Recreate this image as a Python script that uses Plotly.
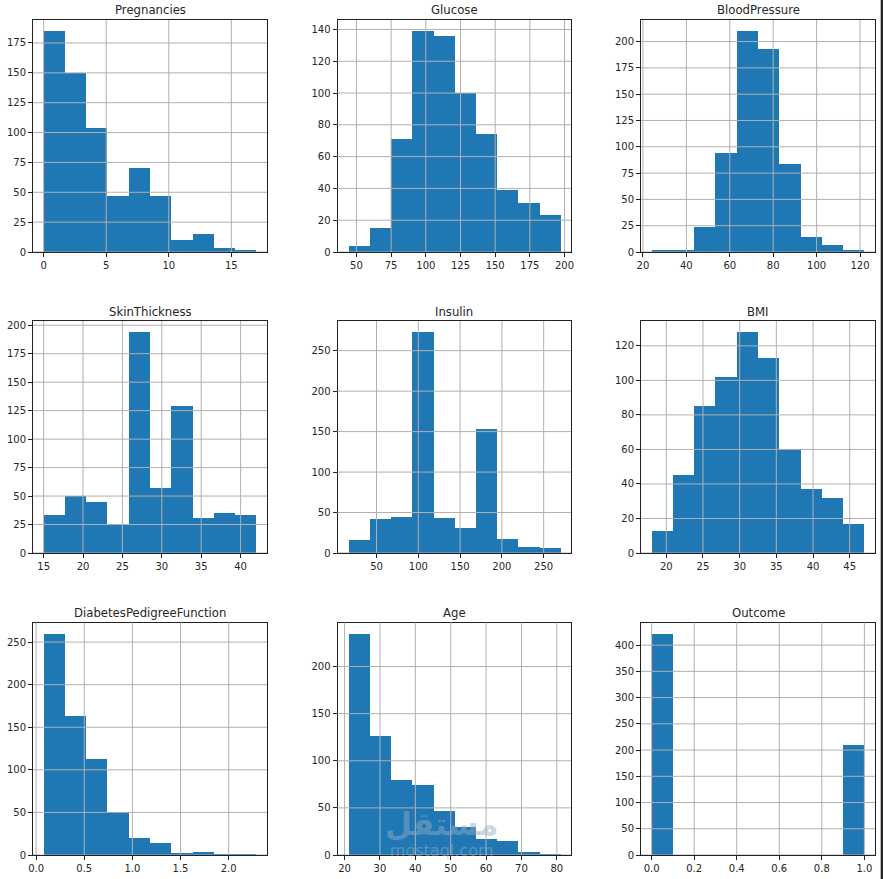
import numpy as np
import plotly.graph_objects as go

titles = ['Pregnancies', 'Glucose', 'BloodPressure', 'SkinThickness', 'Insulin', 'BMI',
          'DiabetesPedigreeFunction', 'Age', 'Outcome']

# min / max of each column (bins are 10 equal steps between them)
pregnancies_range = [0, 17]
glucose_range = [44, 197]
blood_pressure_range = [24, 122]
skin_range = [15, 42]
insulin_range = [16, 270]
bmi_range = [18, 47]
pedigree_range = [0.078, 2.288]
age_range = [21, 81]
outcome_range = [0, 1]

# counts per bin
pregnancies = [185, 150, 104, 47, 70, 47, 10, 15, 3, 1]
glucose = [4, 15, 71, 139, 136, 100, 74, 39, 31, 23]
blood_pressure = [2, 2, 24, 94, 210, 193, 84, 14, 7, 2]
skin = [33, 50, 45, 25, 194, 57, 129, 31, 35, 33]
insulin = [16, 42, 44, 273, 43, 31, 153, 17, 7, 6]
bmi = [13, 45, 85, 102, 128, 113, 60, 37, 32, 17]
pedigree = [260, 164, 113, 51, 20, 15, 3, 4, 1, 1]
age = [235, 127, 80, 75, 47, 30, 18, 15, 4, 1]
outcome = [422, 0, 0, 0, 0, 0, 0, 0, 0, 210]

# tick labels
x_ticks = [
    [0, 5, 10, 15],
    [50, 75, 100, 125, 150, 175, 200],
    [20, 40, 60, 80, 100, 120],
    [15, 20, 25, 30, 35, 40],
    [50, 100, 150, 200, 250],
    [20, 25, 30, 35, 40, 45],
    [0.0, 0.5, 1.0, 1.5, 2.0],
    [20, 30, 40, 50, 60, 70, 80],
    [0.0, 0.2, 0.4, 0.6, 0.8, 1.0],
]
y_ticks = [
    [0, 25, 50, 75, 100, 125, 150, 175],
    [0, 20, 40, 60, 80, 100, 120, 140],
    [0, 25, 50, 75, 100, 125, 150, 175, 200],
    [0, 25, 50, 75, 100, 125, 150, 175, 200],
    [0, 50, 100, 150, 200, 250],
    [0, 20, 40, 60, 80, 100, 120],
    [0, 50, 100, 150, 200, 250],
    [0, 50, 100, 150, 200],
    [0, 50, 100, 150, 200, 250, 300, 350, 400],
]
x_formats = ['d', 'd', 'd', 'd', 'd', 'd', '.1f', 'd', '.1f']

ranges = [pregnancies_range, glucose_range, blood_pressure_range, skin_range, insulin_range,
          bmi_range, pedigree_range, age_range, outcome_range]
counts = [pregnancies, glucose, blood_pressure, skin, insulin, bmi, pedigree, age, outcome]

W, H = 883, 879
col_px = [(33, 267), (337.5, 571), (641, 875)]
row_px = [(20, 252), (321, 553), (622.5, 855)]
TEXT = '#262626'
BLUE = '#1f77b4'
GRID = '#b0b0b0'

fig = go.Figure()

for i, (title, rng, cnt) in enumerate(zip(titles, ranges, counts)):
    n = i + 1
    suffix = '' if n == 1 else str(n)
    c0, c1 = col_px[i % 3]
    r0, r1 = row_px[i // 3]
    edges = np.linspace(rng[0], rng[1], len(cnt) + 1)
    fig.add_trace(go.Bar(x=edges[:-1], y=cnt, width=np.diff(edges), offset=0,
                         marker=dict(color=BLUE, line=dict(width=0)),
                         xaxis='x' + suffix, yaxis='y' + suffix, showlegend=False))
    pad = (rng[1] - rng[0]) * 0.05
    axis = dict(showline=True, mirror=True, linecolor='#222222', linewidth=1, showgrid=False,
                zeroline=False, ticks='outside', ticklen=4, tickwidth=1, tickcolor='#222222',
                tickfont=dict(size=10, color=TEXT), layer='above traces', automargin=False)
    fig.update_layout({
        'xaxis' + suffix: dict(axis, domain=[c0 / W, c1 / W], anchor='y' + suffix,
                               range=[rng[0] - pad, rng[1] + pad], tickmode='array',
                               tickvals=x_ticks[i], tickformat=x_formats[i]),
        'yaxis' + suffix: dict(axis, domain=[1 - r1 / H, 1 - r0 / H], anchor='x' + suffix,
                               range=[0, max(cnt) * 1.05], tickmode='array',
                               tickvals=y_ticks[i], tickformat='d'),
    })
    # pandas hist draws the grid on top of the bars
    for t in x_ticks[i]:
        fig.add_shape(type='line', layer='above', xref='x' + suffix, yref='y' + suffix + ' domain',
                      x0=t, x1=t, y0=0, y1=1, line=dict(color=GRID, width=1))
    for t in y_ticks[i]:
        fig.add_shape(type='line', layer='above', xref='x' + suffix + ' domain', yref='y' + suffix,
                      x0=0, x1=1, y0=t, y1=t, line=dict(color=GRID, width=1))
    fig.add_annotation(text=title, xref='paper', yref='paper', x=(c0 + c1) / 2 / W,
                       y=1 - (r0 - 0.5) / H, xanchor='center', yanchor='bottom', showarrow=False,
                       font=dict(size=11.7, color=TEXT))

# site watermark over the Age panel
mark = 'rgba(151,172,200,0.49)'
fig.add_annotation(text='<b><span style="font-size:31px">مستقل</span></b><br>mostaql.com',
                   xref='paper', yref='paper', x=441 / W, y=1 - 862 / H,
                   xanchor='center', yanchor='bottom', showarrow=False,
                   font=dict(size=16, color=mark, family='DejaVu Sans'))

# dark strip along the right edge of the screenshot
fig.add_shape(type='rect', xref='paper', yref='paper', x0=880.7 / W, x1=1, y0=0, y1=1,
              fillcolor='#222222', line=dict(width=0), layer='above')

fig.update_layout(width=W, height=H, margin=dict(l=0, r=0, t=0, b=0, autoexpand=False),
                  plot_bgcolor='white', paper_bgcolor='white', bargap=0, barmode='overlay',
                  font=dict(family='DejaVu Sans', color=TEXT))

fig.write_html("out.html", config={'displayModeBar': False},
               post_script="document.body.style.margin = '0';")
